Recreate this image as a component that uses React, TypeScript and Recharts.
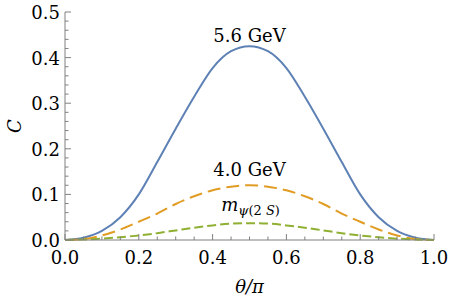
import React from 'react';
import { LineChart, Line, XAxis, YAxis, ReferenceDot } from 'recharts';

// theta / pi sample points and the three C curves
const theta = [0, 0.05, 0.1, 0.15, 0.2, 0.25, 0.3, 0.35, 0.4, 0.45, 0.5, 0.55, 0.6, 0.65, 0.7, 0.75, 0.8, 0.85, 0.9, 0.95, 1];
const c56 = [0, 0.005, 0.02, 0.05, 0.1, 0.171, 0.244, 0.314, 0.377, 0.414, 0.425, 0.414, 0.377, 0.314, 0.244, 0.171, 0.1, 0.05, 0.02, 0.005, 0];
const c40 = [0, 0.002, 0.01, 0.023, 0.04, 0.058, 0.079, 0.096, 0.109, 0.117, 0.12, 0.117, 0.109, 0.096, 0.079, 0.058, 0.04, 0.023, 0.01, 0.002, 0];
const cPsi = [0, 0.001, 0.003, 0.006, 0.01, 0.015, 0.021, 0.027, 0.032, 0.036, 0.037, 0.036, 0.032, 0.027, 0.021, 0.015, 0.01, 0.006, 0.003, 0.001, 0];

const xTicks = [0, 0.05, 0.1, 0.15, 0.2, 0.25, 0.3, 0.35, 0.4, 0.45, 0.5, 0.55, 0.6, 0.65, 0.7, 0.75, 0.8, 0.85, 0.9, 0.95, 1];
const xLabels = ['0.0', '0.2', '0.4', '0.6', '0.8', '1.0'];
const yTicks = [0, 0.02, 0.04, 0.06, 0.08, 0.1, 0.12, 0.14, 0.16, 0.18, 0.2, 0.22, 0.24, 0.26, 0.28, 0.3, 0.32, 0.34, 0.36, 0.38, 0.4, 0.42, 0.44, 0.46, 0.48, 0.5];
const yLabels = ['0.0', '0.1', '0.2', '0.3', '0.4', '0.5'];

const data = theta.map((t, i) => ({ theta: t, c56: c56[i], c40: c40[i], cPsi: cPsi[i] }));

const FRAME = '#808080';
const FS = 18;
const txt = {
  fontFamily: "'DejaVu Serif', serif",
  fill: '#000',
};

const labelFor = (v: number, step: number, labels: string[]) => {
  const k = v / step;
  if (Math.abs(k - Math.round(k)) > 1e-6) return null;
  return labels[Math.round(k)];
};

const BottomTick = ({ x, y, payload }: any) => {
  const lab = labelFor(payload.value, 0.2, xLabels);
  return (
    <g>
      <line x1={x} y1={y} x2={x} y2={y - (lab ? 6 : 3.5)} stroke={FRAME} />
      {lab && (
        <text x={x} y={y + 24} textAnchor="middle" style={{ ...txt, fontSize: FS }}>
          {lab}
        </text>
      )}
    </g>
  );
};

const TopTick = ({ x, y, payload }: any) => {
  const lab = labelFor(payload.value, 0.2, xLabels);
  return <line x1={x} y1={y} x2={x} y2={y + (lab ? 6 : 3.5)} stroke={FRAME} />;
};

const LeftTick = ({ x, y, payload }: any) => {
  const lab = labelFor(payload.value, 0.1, yLabels);
  return (
    <g>
      <line x1={x} y1={y} x2={x + (lab ? 6 : 3.5)} y2={y} stroke={FRAME} />
      {lab && (
        <text x={x - 5} y={y + 7} textAnchor="end" style={{ ...txt, fontSize: FS }}>
          {lab}
        </text>
      )}
    </g>
  );
};

const RightTick = ({ x, y, payload }: any) => {
  const lab = labelFor(payload.value, 0.1, yLabels);
  return <line x1={x} y1={y} x2={x - (lab ? 6 : 3.5)} y2={y} stroke={FRAME} />;
};

const GevLabel = (text: string, dy: number) => (p: any) => (
  <text x={p.cx} y={p.cy + dy} textAnchor="middle" style={{ ...txt, fontSize: FS }}>
    {text}
  </text>
);

const PsiLabel = (p: any) => (
  <text x={p.cx + 1} y={p.cy - 12} textAnchor="middle" style={txt}>
    <tspan style={{ fontSize: FS, fontStyle: 'italic' }}>m</tspan>
    <tspan dy={4} style={{ fontSize: 13, fontStyle: 'italic' }}>ψ</tspan>
    <tspan style={{ fontSize: 13 }}>(2</tspan>
    <tspan style={{ fontSize: 13, fontStyle: 'italic' }}> S</tspan>
    <tspan style={{ fontSize: 13 }}>)</tspan>
  </text>
);

export default function App() {
  return (
    <div style={{ position: 'absolute', left: 0, top: 0, background: '#fff' }}>
      <LineChart width={449} height={303} data={data} margin={{ top: 12, right: 15, bottom: 0, left: 0 }}>
        <XAxis
          dataKey="theta"
          type="number"
          domain={[0, 1]}
          ticks={xTicks}
          interval={0}
          tickSize={0}
          tickMargin={0}
          tickLine={false}
          height={63}
          axisLine={{ stroke: FRAME }}
          tick={<BottomTick />}
          label={{
            content: ({ viewBox }: any) => (
              <text
                x={viewBox.x + viewBox.width / 2}
                y={viewBox.y + 53}
                textAnchor="middle"
                style={{ ...txt, fontSize: FS, fontStyle: 'italic' }}
              >
                θ/π
              </text>
            ),
          }}
        />
        <XAxis
          xAxisId="top"
          orientation="top"
          dataKey="theta"
          type="number"
          domain={[0, 1]}
          ticks={xTicks}
          interval={0}
          tickSize={0}
          tickMargin={0}
          tickLine={false}
          height={0}
          axisLine={{ stroke: FRAME }}
          tick={<TopTick />}
        />
        <YAxis
          type="number"
          domain={[0, 0.5]}
          ticks={yTicks}
          interval={0}
          tickSize={0}
          tickMargin={0}
          tickLine={false}
          width={65}
          axisLine={{ stroke: FRAME }}
          tick={<LeftTick />}
          label={{
            content: ({ viewBox }: any) => {
              const cx = 14;
              const cy = viewBox.y + viewBox.height / 2;
              return (
                <text
                  x={cx}
                  y={cy}
                  transform={`rotate(-90 ${cx} ${cy})`}
                  textAnchor="middle"
                  dominantBaseline="central"
                  style={{ ...txt, fontSize: FS, fontStyle: 'italic' }}
                >
                  C
                </text>
              );
            },
          }}
        />
        <YAxis
          yAxisId="right"
          orientation="right"
          type="number"
          domain={[0, 0.5]}
          ticks={yTicks}
          interval={0}
          tickSize={0}
          tickMargin={0}
          tickLine={false}
          width={0}
          axisLine={{ stroke: FRAME }}
          tick={<RightTick />}
        />
        <Line dataKey="c56" type="monotone" stroke="#5E81B5" strokeWidth={2} dot={false} isAnimationActive={false} />
        <Line dataKey="c40" type="monotone" stroke="#E19C24" strokeWidth={2} strokeDasharray="13 6" dot={false} isAnimationActive={false} />
        <Line dataKey="cPsi" type="monotone" stroke="#8FB032" strokeWidth={2} strokeDasharray="9 4" dot={false} isAnimationActive={false} />
        <ReferenceDot x={0.5} y={0.425} r={0} shape={GevLabel('5.6 GeV', -4)} />
        <ReferenceDot x={0.5} y={0.12} r={0} shape={GevLabel('4.0 GeV', -9)} />
        <ReferenceDot x={0.5} y={0.037} r={0} shape={PsiLabel} />
      </LineChart>
    </div>
  );
}
